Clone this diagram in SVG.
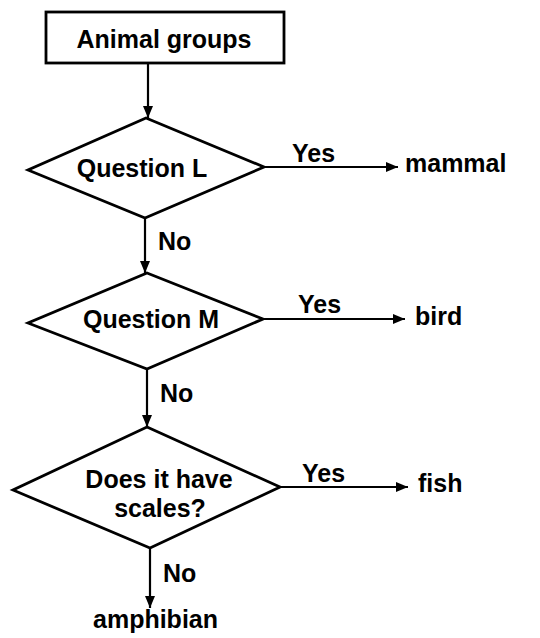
<svg xmlns="http://www.w3.org/2000/svg" width="540" height="638" viewBox="0 0 540 638">
<style>
.shape{fill:#fff;stroke:#000;stroke-width:2.8}
.t{font-family:"Liberation Sans",Arial,sans-serif;font-weight:bold;font-size:25px;fill:#000}
.c{text-anchor:middle}
.conn line{stroke:#000;stroke-width:2.2}
</style>
<defs>
<marker id="ah" markerUnits="userSpaceOnUse" markerWidth="13" markerHeight="10" refX="12" refY="5" orient="auto">
<path d="M0,0 L12,5 L0,10 z" fill="#000"/>
</marker>
</defs>
<rect width="540" height="638" fill="#fff"/>
<g id="connectors" class="conn">
<line x1="148" y1="63" x2="148" y2="118" marker-end="url(#ah)"/>
<line x1="264" y1="167" x2="398" y2="167" marker-end="url(#ah)"/>
<line x1="145" y1="218" x2="145" y2="273" marker-end="url(#ah)"/>
<line x1="263" y1="319" x2="405" y2="319" marker-end="url(#ah)"/>
<line x1="147" y1="369" x2="147" y2="427" marker-end="url(#ah)"/>
<line x1="280" y1="487" x2="408" y2="487" marker-end="url(#ah)"/>
<line x1="150" y1="548" x2="150" y2="608" marker-end="url(#ah)"/>
</g>
<g id="start">
<rect class="shape" x="46" y="12" width="238" height="51"/>
<text class="t c" x="164" y="48" font-size="26">Animal groups</text>
</g>
<g id="qL">
<polygon class="shape" points="146,118 264,167 145,218 28,170"/>
<text class="t c" x="142" y="177" font-size="23">Question L</text>
</g>
<g id="qM">
<polygon class="shape" points="147,273 263,319 147,369 28,323"/>
<text class="t c" x="151" y="328">Question M</text>
</g>
<g id="qS">
<polygon class="shape" points="147,427 280,487 150,548 13,490"/>
<text class="t c" x="159" y="488">Does it have</text>
<text class="t c" x="160" y="517">scales?</text>
</g>
<g id="labels">
<text class="t" x="292" y="162">Yes</text>
<text class="t" x="158" y="250">No</text>
<text class="t" x="298" y="313">Yes</text>
<text class="t" x="160" y="402">No</text>
<text class="t" x="302" y="482">Yes</text>
<text class="t" x="163" y="582">No</text>
</g>
<g id="mammal"><text class="t" x="405" y="172" font-size="26">mammal</text></g>
<g id="bird"><text class="t" x="415" y="325">bird</text></g>
<g id="fish"><text class="t" x="418" y="492">fish</text></g>
<g id="amphibian"><text class="t" x="93" y="628">amphibian</text></g>
</svg>
